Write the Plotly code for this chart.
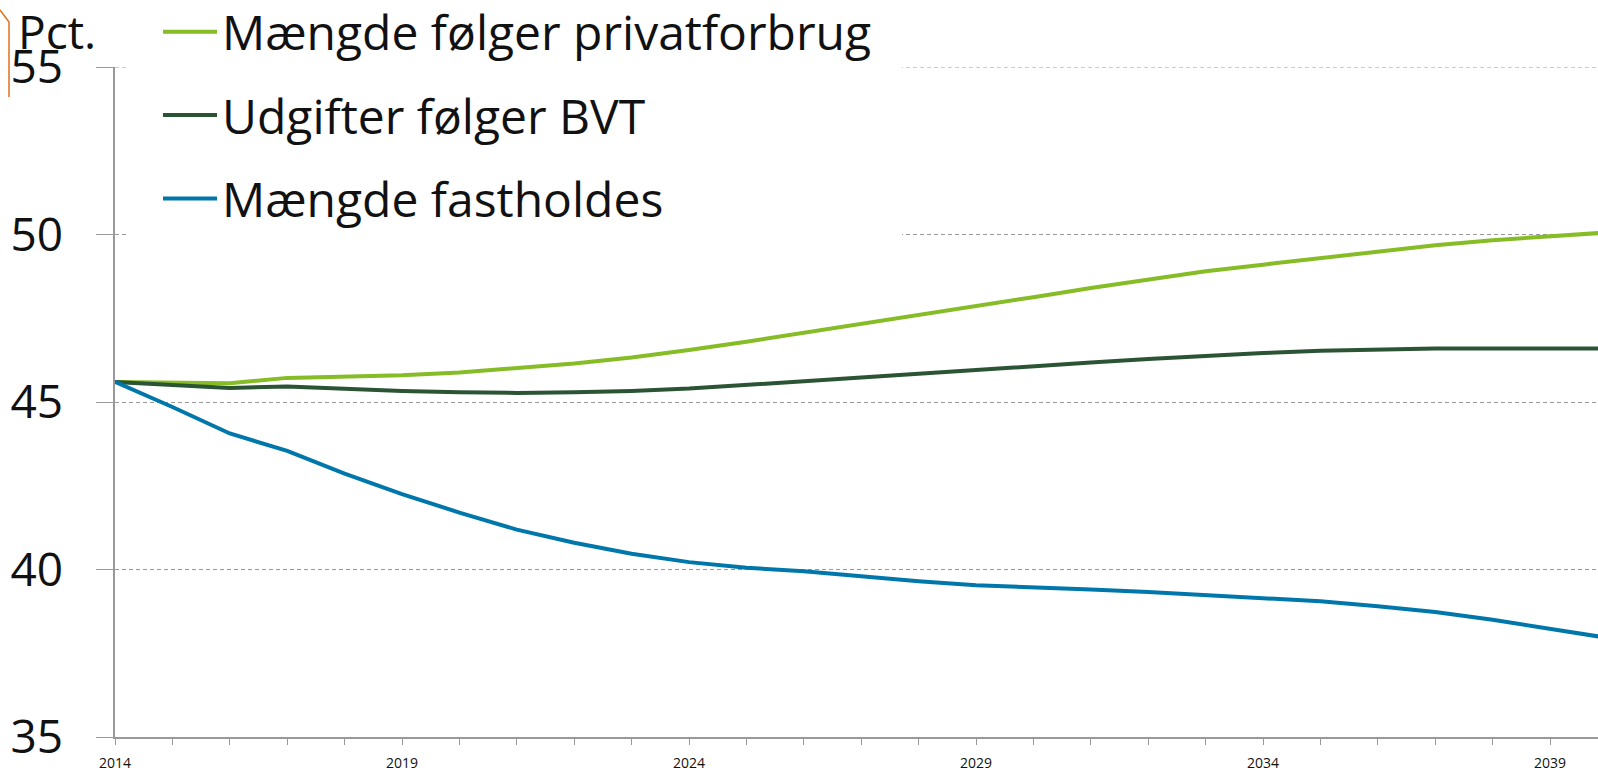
import plotly.graph_objects as go

years = list(range(2014, 2041))

privatforbrug = [45.60, 45.58, 45.56, 45.72, 45.75, 45.80, 45.88, 46.00, 46.15, 46.33,
                 46.55, 46.80, 47.06, 47.32, 47.60, 47.86, 48.13, 48.40, 48.66, 48.90,
                 49.10, 49.30, 49.50, 49.68, 49.83, 49.96, 50.06]
bvt = [45.60, 45.52, 45.42, 45.46, 45.38, 45.33, 45.29, 45.27, 45.29, 45.33,
       45.40, 45.50, 45.62, 45.73, 45.84, 45.96, 46.07, 46.18, 46.28, 46.38,
       46.46, 46.53, 46.57, 46.60, 46.60, 46.59, 46.60]
fastholdes = [45.60, 44.85, 44.06, 43.54, 42.86, 42.25, 41.70, 41.19, 40.80, 40.47,
              40.22, 40.05, 39.95, 39.79, 39.65, 39.53, 39.45, 39.40, 39.33, 39.24,
              39.14, 39.05, 38.90, 38.73, 38.50, 38.22, 37.96]

series_names = ["Mængde følger privatforbrug", "Udgifter følger BVT", "Mængde fastholdes"]
series_colors = ["#86BC25", "#2B5434", "#0077AA"]
series_values = [privatforbrug, bvt, fastholdes]

x_ticks = [2014, 2019, 2024, 2029, 2034, 2039]
y_ticks = [35, 40, 45, 50, 55]
y_min, y_max = 35, 55
x_min = 2014

W, H = 1598, 772
L, R, T, B = 115, 0, 67, 35
pw, ph = W - L - R, H - T - B
x_per_px = 1 / 57.4
x_max = x_min + pw * x_per_px

def px(x):
    return (x - L) / pw

def py(y):
    return (H - B - y) / ph

def dx(x):  # pixel -> data x
    return x_min + (x - L) * x_per_px

def dy(y):  # pixel -> data y
    return y_max - (y - T) * (y_max - y_min) / ph

FONT = "Open Sans"
GRID = "#999999"

fig = go.Figure()
for i, (name, color, vals) in enumerate(zip(series_names, series_colors, series_values)):
    fig.add_trace(go.Scatter(
        x=years, y=vals, name=name, mode="lines",
        line=dict(color=color, width=4),
        legendgroup=f"g{i}",
    ))

fig.update_layout(
    width=W, height=H,
    margin=dict(l=L, r=R, t=T, b=B, pad=0, autoexpand=False),
    paper_bgcolor="white", plot_bgcolor="white",
    font=dict(family=FONT, color="#111111"),
    showlegend=True,
    legend=dict(
        x=px(158), y=py(-6), xanchor="left", yanchor="top",
        bgcolor="rgba(0,0,0,0)", borderwidth=0,
        font=dict(size=48, family=FONT, color="#111111"),
        itemwidth=54, tracegroupgap=18, traceorder="grouped",
    ),
    xaxis=dict(
        range=[x_min, x_max],
        tickmode="array", tickvals=x_ticks, ticktext=[str(v) for v in x_ticks],
        ticks="outside", ticklen=6, tickcolor=GRID, tickwidth=1.3,
        minor=dict(dtick=1, tick0=2014, ticks="outside", ticklen=6,
                   tickcolor=GRID, tickwidth=1.3, showgrid=False),
        showgrid=False, zeroline=False,
        showline=True, linecolor=GRID, linewidth=1.5,
        tickfont=dict(size=14, family=FONT, color="#111111"),
        ticklabelstandoff=6,
    ),
    yaxis=dict(
        range=[y_min, y_max],
        tickmode="array", tickvals=y_ticks, ticktext=[str(v) for v in y_ticks],
        ticks="outside", ticklen=17, tickcolor=GRID, tickwidth=1.3,
        showgrid=True, gridcolor=GRID, gridwidth=1, griddash="4px,3px",
        zeroline=False,
        showline=True, linecolor=GRID, linewidth=1.5,
        tickfont=dict(size=46, family=FONT, color="#111111"),
        ticklabelstandoff=24,
    ),
    annotations=[
        dict(text="Pct.", xref="paper", yref="paper", x=px(16), y=py(31),
             xanchor="left", yanchor="middle", showarrow=False,
             font=dict(size=46, family=FONT, color="#111111")),
    ],
    shapes=[
        # top gridline (at the range edge plotly omits it)
        dict(type="line", xref="x", yref="y", layer="between",
             x0=x_min, x1=x_max, y0=y_max, y1=y_max,
             line=dict(color=GRID, width=1, dash="4px,3px")),
        # white legend background over the gridlines, under the lines
        dict(type="rect", xref="x", yref="y", layer="between",
             x0=dx(127), x1=dx(902), y0=dy(242), y1=y_max + 1,
             fillcolor="white", line=dict(width=0)),
        dict(type="path", xref="paper", yref="paper",
             path=f"M {px(0)} {py(10)} L {px(9)} {py(22)} L {px(9)} {py(97)}",
             line=dict(color="#E0701E", width=1.5)),
    ],
)

fig.write_html("out.html", config={"displayModeBar": False},
               post_script="document.body.style.margin='0';")
